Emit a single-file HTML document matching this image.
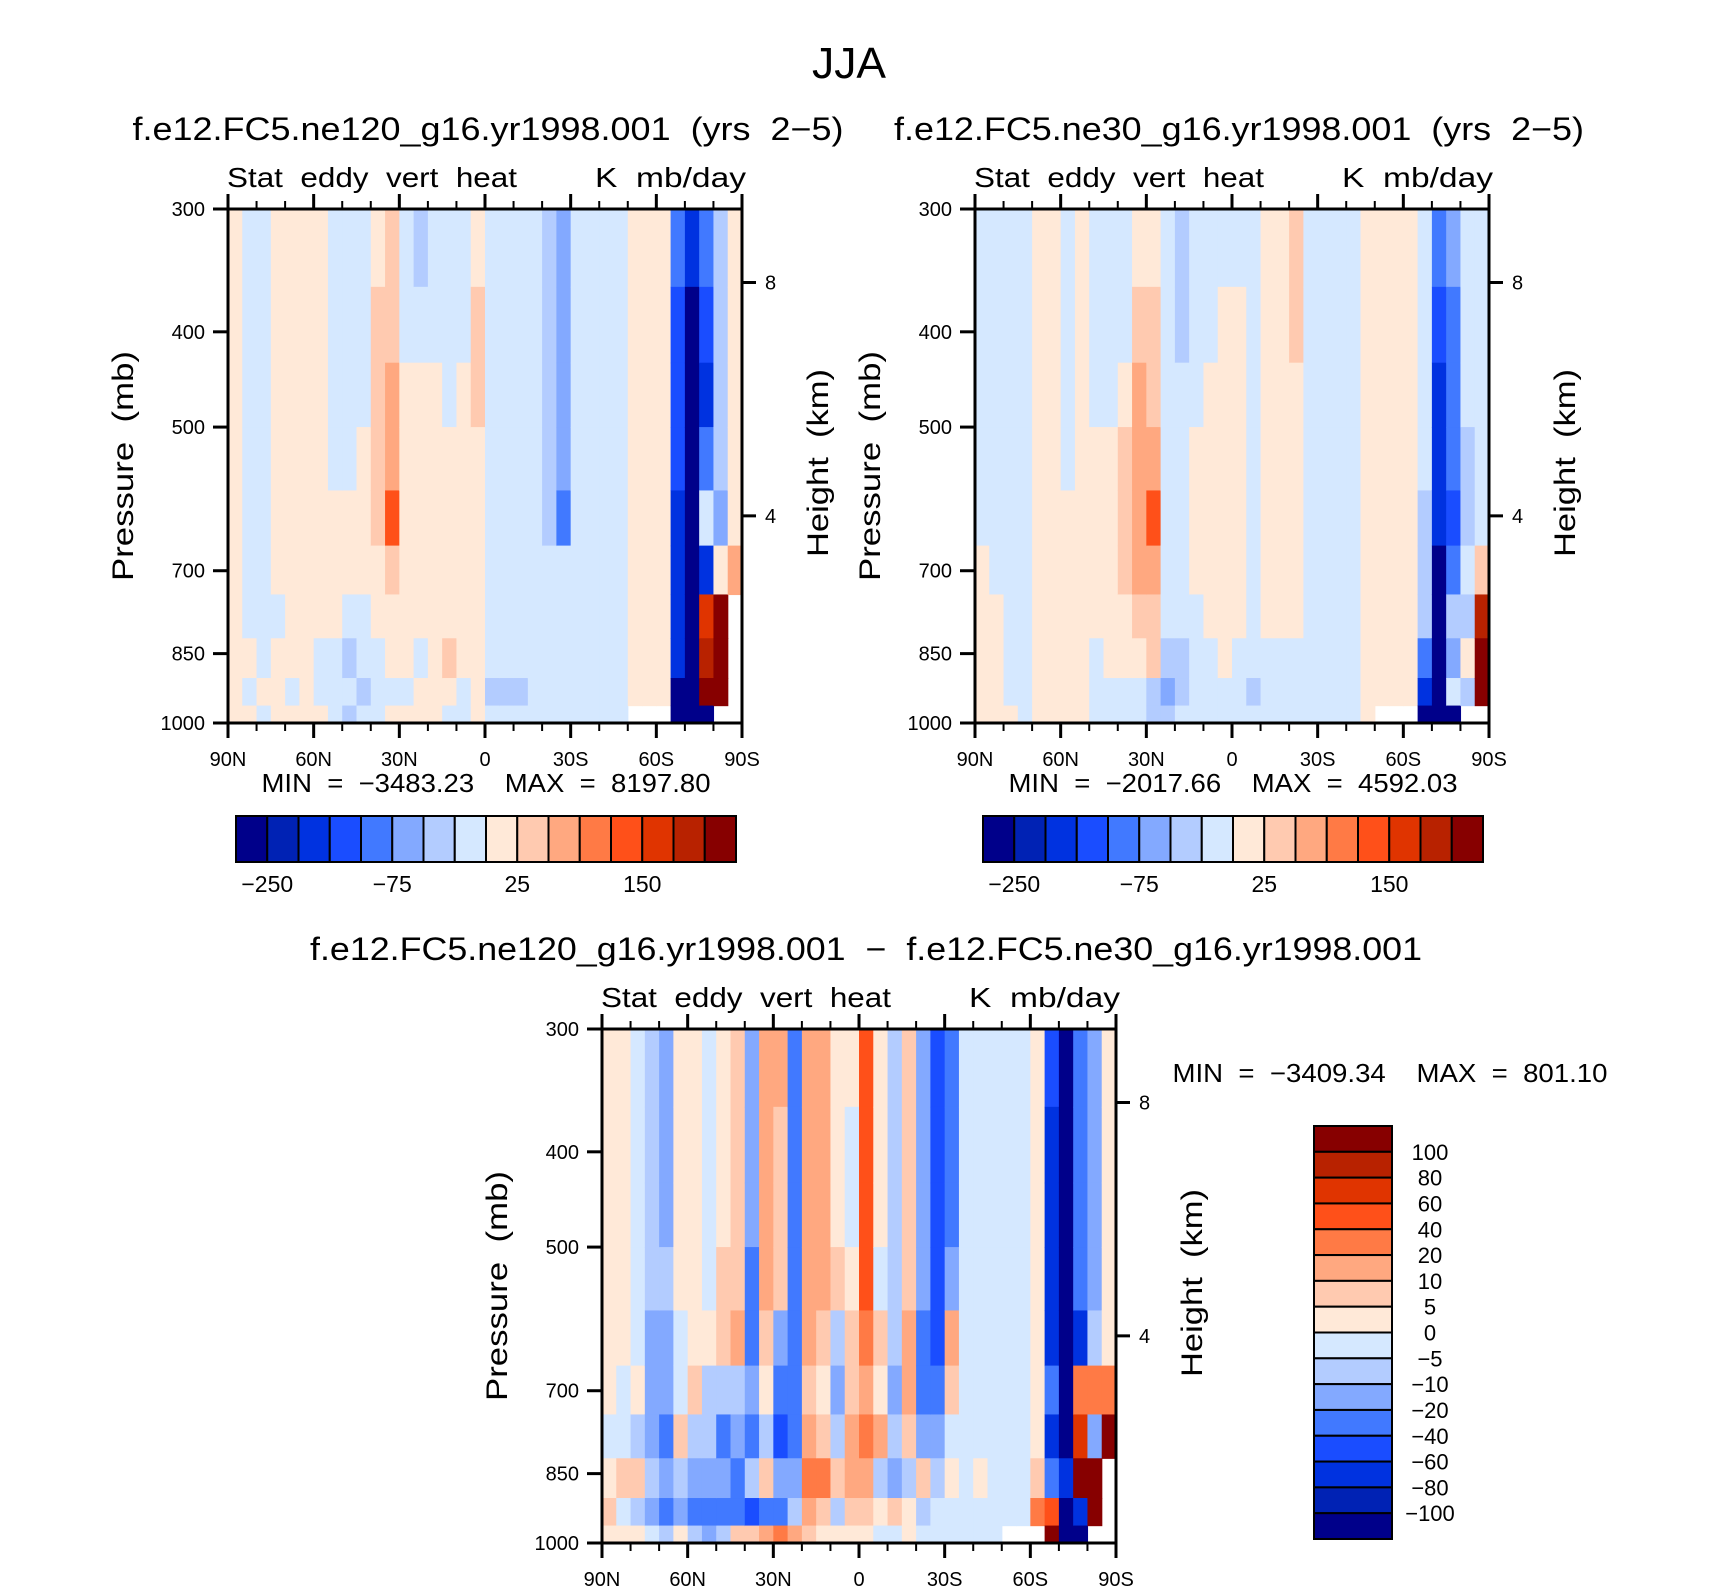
<!DOCTYPE html>
<html><head><meta charset="utf-8"><title>JJA Stat eddy vert heat</title>
<style>
html,body{margin:0;padding:0;background:#fff;}
svg{display:block;font-family:"Liberation Sans",sans-serif;}
</style></head>
<body>
<svg id="chart" width="1710" height="1591" viewBox="0 0 1710 1591" xmlns="http://www.w3.org/2000/svg"></svg>
<script>
const colors = ["#00008a","#0022b4","#0032e0","#1a4dff","#4179ff","#83a9ff","#b3ccff","#d5e8ff","#ffe9d8","#ffcab0","#ffa880","#ff7a45","#ff5019","#e03400","#b82200","#870000"];
const levels1 = [-250,-200,-150,-100,-75,-50,-25,0,25,50,75,100,150,200,250];
const levels3 = [-100,-80,-60,-40,-20,-10,-5,0,5,10,20,40,60,80,100];
const cbLabels1 = ["-250","-75","25","150"];
const cbLabelIdx1 = [1,5,9,13];
const cbLabels3 = ["100","80","60","40","20","10","5","0","-5","-10","-20","-40","-60","-80","-100"];
const latTicks = ["90N","60N","30N","0","30S","60S","90S"];
const presTicks = [300,400,500,700,850,1000];
const heightTicks = [8,4];
const heightFrac = [0.143,0.597];
const rowBounds = [300,360,430,500,580,660,740,820,900,960,1000];
const N = null;
const field1 = [
[10,10,10,10,10,10,10,10,10,10],[-10,-10,-10,-10,-10,-10,-10,10,-10,10],[-10,-10,-10,-10,-10,-10,-10,-10,10,-10],
[10,10,10,10,10,10,-10,10,10,10],[10,10,10,10,10,10,10,10,-10,10],[10,10,10,10,10,10,10,10,10,10],
[10,10,10,10,10,10,10,-10,-10,10],[-10,-10,-10,-10,10,10,10,-10,-10,-10],[-10,-10,-10,-10,10,10,-10,-40,-10,-40],
[-10,-10,-10,10,10,10,-10,-10,-40,-10],[10,30,30,40,30,10,10,-10,-10,-10],[30,40,60,60,120,30,10,10,-10,10],
[-10,-10,10,10,10,10,10,10,-10,10],[-40,-10,10,10,10,10,10,-10,10,10],[-10,-10,10,10,10,10,10,10,10,10],
[-10,-10,-10,10,10,10,10,30,10,-10],[-10,-10,10,10,10,10,10,10,-10,-10],[10,30,30,10,10,10,10,10,10,10],
[-10,-10,-10,-10,-10,-10,-10,-10,-40,-10],[-10,-10,-10,-10,-10,-10,-10,-10,-40,-10],[-10,-10,-10,-10,-10,-10,-10,-10,-40,-10],
[-10,-10,-10,-10,-10,-10,-10,-10,-10,-10],[-40,-40,-40,-40,-40,-10,-10,-10,-10,-10],[-60,-60,-60,-60,-80,-10,-10,-10,-10,-10],
[-10,-10,-10,-10,-10,-10,-10,-10,-10,-10],[-10,-10,-10,-10,-10,-10,-10,-10,-10,-10],[-10,-10,-10,-10,-10,-10,-10,-10,-10,-10],
[-10,-10,-10,-10,-10,-10,-10,-10,-10,-10],[10,10,10,10,10,10,10,10,10,N],[10,10,10,10,10,10,10,10,10,N],
[10,10,10,10,10,10,10,10,10,N],[-80,-150,-150,-150,-200,-200,-200,-200,-260,-300],[-200,-300,-300,-300,-300,-300,-300,-300,-300,-300],
[-80,-150,-200,-100,-10,-200,150,200,250,-300],[-40,-40,-40,-40,-60,10,260,260,300,N],[10,10,10,10,10,60,N,N,N,N]
];
const field2 = [
[-10,-10,-10,-10,-10,10,10,10,10,10],[-10,-10,-10,-10,-10,-10,10,10,10,10],[-10,-10,-10,-10,-10,-10,-10,-10,-10,10],
[-10,-10,-10,-10,-10,-10,-10,-10,-10,-10],[10,10,10,10,10,10,10,10,10,10],[10,10,10,10,10,10,10,10,10,10],
[-10,-10,-10,-10,10,10,10,10,10,10],[10,10,10,10,10,10,10,10,10,10],[-10,-10,-10,10,10,10,10,-10,-10,-10],
[-10,-10,-10,10,10,10,10,10,-10,-10],[-10,-10,10,30,30,30,10,10,-10,-10],[10,30,60,60,60,60,30,10,-10,-10],
[10,30,30,60,120,60,30,30,-40,-40],[-10,-10,-10,-10,-10,-10,-10,-40,-60,-40],[-40,-40,-10,-10,-10,-10,-10,-40,-40,-10],
[-10,-10,-10,10,10,10,-10,-10,-10,-10],[-10,-10,10,10,10,10,10,-10,-10,-10],[-10,10,10,10,10,10,10,10,-10,-10],
[-10,10,10,10,10,10,10,-10,-10,-10],[-10,-10,-10,-10,-10,-10,-10,-10,-40,-10],[10,10,10,10,10,10,10,-10,-10,-10],
[10,10,10,10,10,10,10,-10,-10,-10],[30,30,10,10,10,10,10,-10,-10,-10],[-10,-10,-10,-10,-10,-10,-10,-10,-10,-10],
[-10,-10,-10,-10,-10,-10,-10,-10,-10,-10],[-10,-10,-10,-10,-10,-10,-10,-10,-10,-10],[-10,-10,-10,-10,-10,-10,-10,-10,-10,-10],
[10,10,10,10,10,10,10,10,10,10],[10,10,10,10,10,10,10,10,10,N],[10,10,10,10,10,10,10,10,10,N],
[10,10,10,10,10,10,10,10,10,N],[-10,-10,-10,-10,-40,-40,-40,-100,-200,-300],[-100,-150,-200,-200,-200,-300,-300,-300,-300,-300],
[-60,-100,-100,-100,-150,-100,-40,-60,-10,-300],[-10,-10,-10,-40,-40,-10,-40,10,-40,N],[-10,-10,-10,-10,-10,30,200,300,300,N]
];
const field3 = [
[3,3,3,3,3,3,-3,3,8,3],[3,3,3,3,3,-3,-3,8,-3,3],[-3,-3,-3,-3,-3,3,-8,8,-8,3],
[-8,-8,-8,-8,-15,-15,-15,-8,-15,-3],[-15,-15,-15,-8,-15,-15,-30,-15,-30,-8],[3,3,3,3,-3,-3,8,-8,-15,3],
[3,3,3,3,3,8,-8,-15,-30,-8],[-3,-3,-3,-3,3,-8,-8,-15,-30,-15],[3,3,3,8,8,-8,-30,-15,-30,-8],
[8,8,8,8,15,-8,-15,-30,-40,8],[-15,-15,-15,-30,-30,-15,-30,-8,-50,8],[15,15,15,15,8,3,-8,8,-30,15],
[15,8,8,8,-15,-30,-50,-15,-30,30],[-30,-30,-30,-30,-40,-40,-40,-15,-8,15],[15,15,15,15,15,8,15,30,15,8],
[15,15,15,15,8,3,8,30,8,3],[3,3,3,8,-8,-15,-8,8,-8,3],[3,-3,-3,3,8,8,15,15,8,3],
[50,50,50,50,30,15,30,15,8,3],[3,3,3,-3,8,3,15,-8,3,-3],[-8,-8,-8,-8,-8,-15,-8,-15,8,-3],
[8,8,8,8,15,15,8,-8,3,3],[-15,-15,-15,-15,-30,-40,-15,8,-8,-3],[-60,-60,-60,-60,-50,-30,-15,-8,-3,-3],
[-30,-30,-30,-15,15,8,-3,3,-3,-3],[-3,-3,-3,-3,-3,-3,-3,-3,-3,-3],[-3,-3,-3,-3,-3,-3,-3,3,-3,-3],
[-3,-3,-3,-3,-3,-3,-3,-3,-3,-3],[-3,-3,-3,-3,-3,-3,-3,-3,-3,N],[-3,-3,-3,-3,-3,-3,-3,-3,-3,N],
[3,3,3,3,3,3,3,8,30,N],[-60,-80,-80,-80,-80,-30,-80,-40,50,150],[-150,-150,-150,-150,-150,-150,-150,-80,-150,-150],
[-40,-40,-40,-40,-80,30,60,150,-80,-150],[-20,-20,-20,-20,-8,30,-15,150,100,N],[3,3,3,3,3,30,150,N,N,N]
];

const svg = document.getElementById('chart');
const NS = "http://www.w3.org/2000/svg";
function mk(tag, attrs, parent){
  const e = document.createElementNS(NS, tag);
  for (const k in attrs) e.setAttribute(k, attrs[k]);
  (parent||svg).appendChild(e);
  return e;
}
function txt(str, x, y, size, anchor, parent, len){
  const t = mk('text', {x:x, y:y, 'font-size':size, 'text-anchor':anchor||'middle', fill:'#000'}, parent);
  t.setAttribute('xml:space','preserve');
  t.style.whiteSpace = 'pre';
  if (len) { t.setAttribute('textLength', len); t.setAttribute('lengthAdjust', 'spacingAndGlyphs'); }
  t.textContent = str;
  return t;
}
function colorIndex(v, levels){
  let i = 0;
  while (i < levels.length && v >= levels[i]) i++;
  return i;
}

const W = 514, H = 514;
const logRange = Math.log(1000/300);
function yScale(p, top){ return top + Math.log(p/300)/logRange*H; }
function xScale(lat, left){ return left + (90 - lat)/180*W; }

function drawPanel(name, left, top, field, levels){
  const g = mk('g', {}, svg);
  
  
  const cells = mk('g', {}, g);
  
  
  for (let c = 0; c < field.length; c++){
    const lat0 = 90 - c*5, lat1 = 90 - (c+1)*5;
    const x0 = xScale(lat0, left), x1 = xScale(lat1, left);
    for (let r = 0; r < field[c].length; r++){
      const v = field[c][r];
      if (v === null) continue;
      const y0 = yScale(rowBounds[r], top), y1 = yScale(rowBounds[r+1], top);
      const rc = mk('rect', {x:x0, y:y0, width:(x1-x0)+0.6, height:(y1-y0)+0.6, fill:colors[colorIndex(v, levels)]}, cells);
      
      
    }
  }
  const fr = mk('rect', {x:left, y:top, width:W, height:H, fill:'none', stroke:'#000', 'stroke-width':3}, g);
  
  
  for (let k = 0; k <= 18; k++){
    const lat = 90 - k*10;
    const x = xScale(lat, left);
    const major = (k % 3 === 0);
    const len = major ? 15 : 8;
    mk('line', {x1:x, x2:x, y1:top, y2:top-len, stroke:'#000', 'stroke-width':major?3:2}, g);
    mk('line', {x1:x, x2:x, y1:top+H, y2:top+H+len, stroke:'#000', 'stroke-width':major?3:2}, g);
  }
  for (let i = 0; i < latTicks.length; i++){
    const x = xScale(90 - i*30, left);
    const t = txt(latTicks[i], x, top+H+43, 20, 'middle', g);
    
    
  }
  for (let i = 0; i < presTicks.length; i++){
    const y = yScale(presTicks[i], top);
    mk('line', {x1:left, x2:left-15, y1:y, y2:y, stroke:'#000', 'stroke-width':3}, g);
    const t = txt(String(presTicks[i]), left-23, y+7, 20, 'end', g);
    
    
  }
  for (let i = 0; i < heightTicks.length; i++){
    const y = top + heightFrac[i]*H;
    mk('line', {x1:left+W, x2:left+W+14, y1:y, y2:y, stroke:'#000', 'stroke-width':3}, g);
    const t = txt(String(heightTicks[i]), left+W+23, y+7, 20, 'start', g);
    
    
  }
  const l1 = txt('Stat  eddy  vert  heat', left-1, top-22, 28, 'start', g, 290);
  
  
  const l2 = txt('K  mb/day', left+W+4, top-22, 28, 'end', g, 151);
  
  
  const py = txt('Pressure  (mb)', 0, 0, 30, 'middle', g, 230);
  py.setAttribute('transform', 'translate(' + (left-95) + ',' + (top+H/2) + ') rotate(-90)');
  
  
  const hy = txt('Height  (km)', 0, 0, 30, 'middle', g, 188);
  hy.setAttribute('transform', 'translate(' + (left+W+86) + ',' + (top+H/2 - 3) + ') rotate(-90)');
  
  
}

function hColorbar(name, left, top, w, h){
  const g = mk('g', {}, svg);
  
  
  const bw = w/colors.length;
  for (let i = 0; i < colors.length; i++){
    const r = mk('rect', {x:left+i*bw, y:top, width:bw, height:h, fill:colors[i], stroke:'#000', 'stroke-width':2}, g);
    
    
  }
  for (let i = 0; i < cbLabels1.length; i++){
    const t = txt(cbLabels1[i].replace('-', '\u2212'), left+cbLabelIdx1[i]*bw, top+h+30, 23, 'middle', g);
    
    
  }
}
function vColorbar(name, left, top, w, h){
  const g = mk('g', {}, svg);
  
  
  const bh = h/colors.length;
  for (let i = 0; i < colors.length; i++){
    const r = mk('rect', {x:left, y:top+i*bh, width:w, height:bh, fill:colors[colors.length-1-i], stroke:'#000', 'stroke-width':2}, g);
    
    
  }
  for (let i = 0; i < cbLabels3.length; i++){
    const t = txt(cbLabels3[i].replace('-', '\u2212'), left+w+38, top+(i+1)*bh+8, 22, 'middle', g);
    
    
  }
}

let t;
t = txt('JJA', 849, 78, 44, 'middle', svg, 74);  
t = txt('f.e12.FC5.ne120_g16.yr1998.001  (yrs  2\u22125)', 488, 140, 32, 'middle', svg, 711);  
t = txt('f.e12.FC5.ne30_g16.yr1998.001  (yrs  2\u22125)', 1239, 140, 32, 'middle', svg, 690);  
t = txt('f.e12.FC5.ne120_g16.yr1998.001  \u2212  f.e12.FC5.ne30_g16.yr1998.001', 866, 960, 32, 'middle', svg, 1112);  

drawPanel('panel-ne120', 228, 209, field1, levels1);
drawPanel('panel-ne30', 975, 209, field2, levels1);
drawPanel('panel-diff', 602, 1029, field3, levels3);

t = txt('MIN  =  \u22123483.23    MAX  =  8197.80', 486, 792, 26, 'middle', svg, 449);  
t = txt('MIN  =  \u22122017.66    MAX  =  4592.03', 1233, 792, 26, 'middle', svg, 449);  
t = txt('MIN  =  \u22123409.34    MAX  =  801.10', 1390, 1082, 26, 'middle', svg, 435);  

hColorbar('colorbar-ne120', 236, 816, 500, 46);
hColorbar('colorbar-ne30', 983, 816, 500, 46);
vColorbar('colorbar-diff', 1314, 1126, 78, 413);
</script>
</body></html>
